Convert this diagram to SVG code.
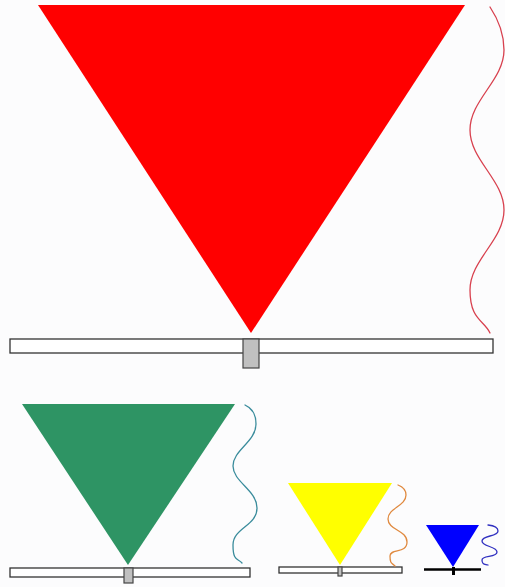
<svg xmlns="http://www.w3.org/2000/svg" width="505" height="587" viewBox="0 0 505 587">
<style>
.bar{fill:#ffffff;stroke:#333333;stroke-width:1.3}
.knob{fill:#c0c0c0;stroke:#444444;stroke-width:1.2}
.wave{fill:none;stroke-width:1.3;stroke-linecap:round}
</style>
<rect width="505" height="587" fill="#fcfcfd"/>
<g id="red">
<polygon points="38,5 465,5 251,333" fill="#ff0000"/>
<rect class="bar" x="10" y="339" width="483" height="14"/>
<rect class="knob" x="243" y="339" width="16" height="29"/>
</g>
<g id="green">
<polygon points="22,404 235,404 128,565" fill="#2e9464"/>
<rect class="bar" x="10" y="568" width="240" height="9"/>
<rect class="knob" x="124" y="568" width="9" height="15"/>
</g>
<g id="yellow">
<polygon points="288,483 392,483 340,565" fill="#ffff00"/>
<rect class="bar" x="279" y="567" width="123" height="6"/>
<rect class="knob" x="338" y="567" width="4" height="9"/>
</g>
<g id="blue">
<polygon points="426,525 479,525 453,567" fill="#0000ff"/>
<line x1="424" y1="569.5" x2="481" y2="569.5" stroke="#000000" stroke-width="2.5"/>
<rect x="452" y="567" width="3" height="8" fill="#000000"/>
</g>
<g id="waves">
<path class="wave" stroke="#d8404e" d="M490,7 Q504,28 504,50 C504,80 470,100 470,130 S504,180 504,210 S470,260 470,290 S484,320 490,333"/>
<path class="wave" stroke="#3a8c9c" d="M245,405 Q256,410 256,424 C256,442 233,450 233,466 S257,490 257,508 S233,528 233,545 S238,558 242,563"/>
<path class="wave" stroke="#e08a40" d="M398,485 Q406,488 406,495 C406,506 388,508 388,519 S407,530 407,542 S390,548 390,556 S392,563 395,566"/>
<path class="wave" stroke="#3030c0" d="M488,525 Q498,526 498,531 C498,537 482,535 482,541 S497,546 497,552 S482,555 482,560 S485,564 488,565"/>
</g>
</svg>
